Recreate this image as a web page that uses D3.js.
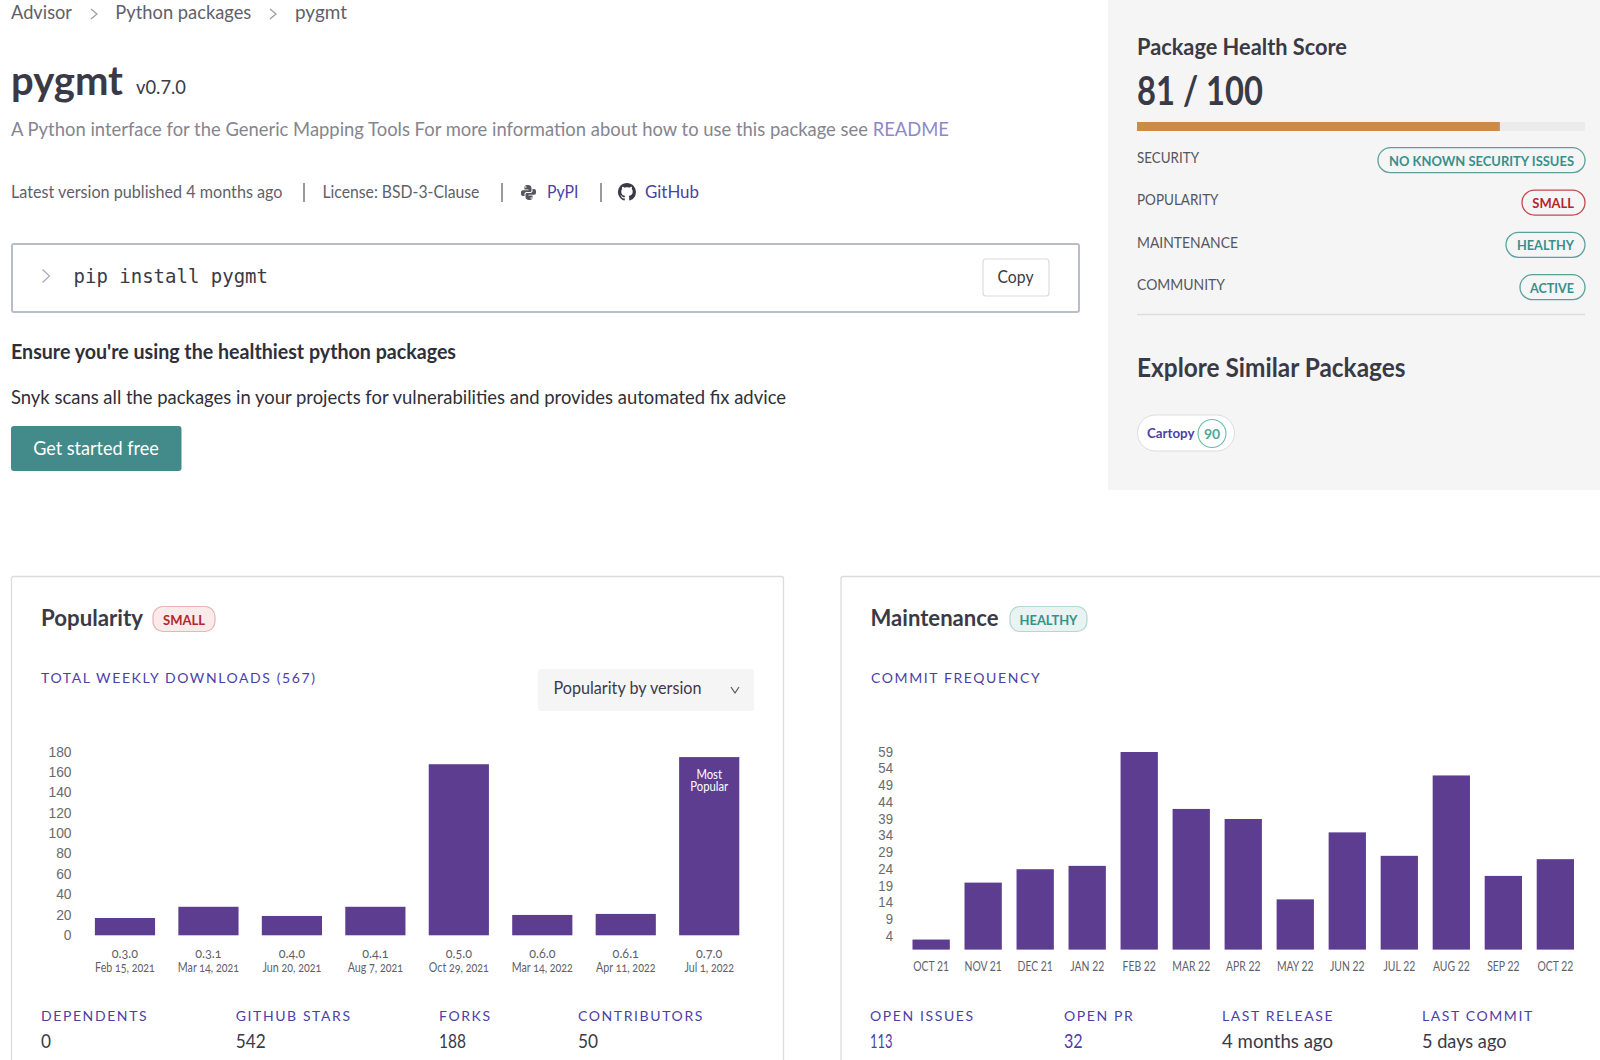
<!DOCTYPE html>
<html>
<head>
<meta charset="utf-8">
<script src="https://d3js.org/d3.v7.min.js"></script>
<style>
  html, body { margin: 0; padding: 0; background: #fff; overflow: hidden; }
  svg { display: block; font-family: Lato, sans-serif; }
</style>
</head>
<body>
<svg id="page" width="1600" height="1060"></svg>
<script>
// popularity chart
const versions = ['0.3.0', '0.3.1', '0.4.0', '0.4.1', '0.5.0', '0.6.0', '0.6.1', '0.7.0'];
const versionDates = ['Feb 15, 2021', 'Mar 14, 2021', 'Jun 20, 2021', 'Aug 7, 2021', 'Oct 29, 2021', 'Mar 14, 2022', 'Apr 11, 2022', 'Jul 1, 2022'];
const versionDownloads = [17, 28, 19, 28, 168, 20, 21, 175];
const popularityTicks = [0, 20, 40, 60, 80, 100, 120, 140, 160, 180];

// maintenance chart
const months = ['OCT 21', 'NOV 21', 'DEC 21', 'JAN 22', 'FEB 22', 'MAR 22', 'APR 22', 'MAY 22', 'JUN 22', 'JUL 22', 'AUG 22', 'SEP 22', 'OCT 22'];
const commits = [3, 20, 24, 25, 59, 42, 39, 15, 35, 28, 52, 22, 27];
const commitTicks = [4, 9, 14, 19, 24, 29, 34, 39, 44, 49, 54, 59];

// health panel
const healthScore = 81;
const healthLabels = ['SECURITY', 'POPULARITY', 'MAINTENANCE', 'COMMUNITY'];
const healthBadges = ['NO KNOWN SECURITY ISSUES', 'SMALL', 'HEALTHY', 'ACTIVE'];

// stats under the charts
const popularityStatLabels = ['DEPENDENTS', 'GITHUB STARS', 'FORKS', 'CONTRIBUTORS'];
const popularityStatValues = ['0', '542', '188', '50'];
const maintenanceStatLabels = ['OPEN ISSUES', 'OPEN PR', 'LAST RELEASE', 'LAST COMMIT'];
const maintenanceStatValues = ['113', '32', '4 months ago', '5 days ago'];

const INK = '#3a3a46', GREY = '#5f5f6b', PURPLE = '#4b3fa7', BAR = '#5c3d8f', TEAL = '#37908a', RED = '#b3262b';

const svg = d3.select('#page');

// the page's own font runs narrower than Lato, so texts get squeezed to a width
function squeeze(sel, ratio) {
  sel.each(function() {
    d3.select(this)
      .attr('textLength', this.getComputedTextLength() * ratio)
      .attr('lengthAdjust', 'spacingAndGlyphs');
  });
}

function label(g, str, x, y, size, color, opts = {}) {
  const t = g.append('text')
    .text(str)
    .attr('x', x)
    .attr('y', y)
    .attr('dy', '0.35em')
    .attr('font-size', size)
    .attr('fill', color)
    .attr('font-weight', opts.weight || 400)
    .attr('text-anchor', opts.anchor || 'start')
    .attr('letter-spacing', opts.spacing || null)
    .attr('font-family', opts.family || null);
  if (opts.w) t.attr('textLength', opts.w).attr('lengthAdjust', 'spacingAndGlyphs');
  if (opts.ratio) t.call(squeeze, opts.ratio);
  return t;
}

function chevron(g, x, y, w, h, color, down) {
  const p = down
    ? `M${x - w},${y - h}L${x},${y + h}L${x + w},${y - h}`
    : `M${x - w},${y - h}L${x + w},${y}L${x - w},${y + h}`;
  g.append('path').attr('d', p).attr('fill', 'none').attr('stroke', color).attr('stroke-width', 1.2);
}

// ---- left header
const head = svg.append('g');
label(head, 'Advisor', 11, 12, 19, GREY, { w: 61 });
chevron(head, 94, 14, 3, 5, '#9a9aa5');
label(head, 'Python packages', 115.3, 12, 19, GREY, { w: 136 });
chevron(head, 273, 14, 3, 5, '#9a9aa5');
label(head, 'pygmt', 295, 12, 19, GREY, { w: 52 });

label(head, 'pygmt', 11, 81, 41, INK, { weight: 700, w: 112 });
label(head, 'v0.7.0', 136, 87, 19, INK, { w: 50 });

// description and its link share one text so they squeeze together
const descr = label(head, 'A Python interface for the Generic Mapping Tools For more information about how to use this package see ', 11, 129, 19, '#85858f', { w: 938 });
descr.append('tspan').attr('fill', '#8f88c7').text('README');

label(head, 'Latest version published 4 months ago', 11, 192, 17, GREY, { w: 271.5 });
label(head, 'License: BSD-3-Clause', 322.4, 192, 17, GREY, { w: 157 });
label(head, 'PyPI', 547, 192, 17, PURPLE, { w: 31.5 });
label(head, 'GitHub', 645, 192, 17, PURPLE, { w: 54 });
[304, 502, 601].forEach(x => {
  head.append('line').attr('x1', x).attr('x2', x).attr('y1', 183).attr('y2', 202).attr('stroke', '#55555f').attr('stroke-width', 1.2);
});

// python logo, two interlocked blobs
head.append('g').attr('transform', 'translate(521,185)').attr('fill', '#55555f')
  .append('path')
  .attr('d', 'M7,0C3.5,0 3.5,1.5 3.5,3V4.5H7.5V5.2H2C0,5.2 0,7 0,8.5C0,10 .5,11 2,11H3.5V9C3.5,7.8 4.5,7 5.5,7H9C10,7 10.5,6.3 10.5,5.5V3C10.5,1 9,0 7,0ZM4.8,1.2A.8,.8 0 1 1 4.8,2.8A.8,.8 0 1 1 4.8,1.2ZM11.5,4V6C11.5,7.2 10.5,8 9.5,8H6C5,8 4.5,8.7 4.5,9.5V12C4.5,14 6,15 8,15C11.5,15 11.5,13.5 11.5,12V10.5H7.5V9.8H13C15,9.8 15,8 15,6.5C15,5 14.5,4 13,4ZM10.2,12.2A.8,.8 0 1 1 10.2,13.8A.8,.8 0 1 1 10.2,12.2Z');

// github mark
head.append('path')
  .attr('transform', 'translate(618,183) scale(1.12)')
  .attr('fill', '#3a3a46')
  .attr('d', 'M8 0C3.58 0 0 3.58 0 8c0 3.54 2.29 6.53 5.47 7.59.4.07.55-.17.55-.38 0-.19-.01-.82-.01-1.49-2.01.37-2.53-.49-2.69-.94-.09-.23-.48-.94-.82-1.13-.28-.15-.68-.52-.01-.53.63-.01 1.08.58 1.23.82.72 1.21 1.87.87 2.33.66.07-.52.28-.87.51-1.07-1.78-.2-3.64-.89-3.64-3.95 0-.87.31-1.59.82-2.15-.08-.2-.36-1.02.08-2.12 0 0 .67-.21 2.2.82.64-.18 1.32-.27 2-.27s1.36.09 2 .27c1.53-1.04 2.2-.82 2.2-.82.44 1.1.16 1.92.08 2.12.51.56.82 1.27.82 2.15 0 3.07-1.87 3.75-3.65 3.95.29.25.54.73.54 1.48 0 1.07-.01 1.93-.01 2.2 0 .21.15.46.55.38A8.01 8.01 0 0 0 16 8c0-4.42-3.58-8-8-8z');

// install box
const box = svg.append('g');
box.append('rect').attr('x', 12).attr('y', 244).attr('width', 1067).attr('height', 68).attr('rx', 2)
  .attr('fill', '#fff').attr('stroke', '#b9bcc9').attr('stroke-width', 2);
chevron(box, 46, 276, 3.5, 6.5, '#a8a8c0');
label(box, 'pip install pygmt', 73.5, 276, 19, INK, { family: '"DejaVu Sans Mono", monospace' });
box.append('rect').attr('x', 983).attr('y', 259).attr('width', 66).attr('height', 37).attr('rx', 3)
  .attr('fill', '#fff').attr('stroke', '#dcdce0').attr('stroke-width', 1.2);
label(box, 'Copy', 1015.5, 277, 17, INK, { anchor: 'middle', w: 36 });

label(svg, "Ensure you're using the healthiest python packages", 11, 352, 20, '#2f2f3a', { weight: 700, w: 445 });
label(svg, 'Snyk scans all the packages in your projects for vulnerabilities and provides automated fix advice', 11, 397, 19.5, '#2f2f3a', { w: 775 });
svg.append('rect').attr('x', 11).attr('y', 426).attr('width', 170.5).attr('height', 45).attr('rx', 3).attr('fill', '#428b8a');
label(svg, 'Get started free', 96, 448, 19.5, '#fff', { anchor: 'middle', w: 125.5 });

// ---- health panel
const panel = svg.append('g');
panel.append('rect').attr('x', 1108).attr('y', 0).attr('width', 492).attr('height', 490).attr('fill', '#f5f5f5');
label(panel, 'Package Health Score', 1137, 47, 22.5, INK, { weight: 700, w: 210 });
label(panel, '81 / 100', 1137, 91, 40, INK, { weight: 700, w: 126 });

const healthX = d3.scaleLinear().domain([0, 100]).range([1137, 1585]);
panel.append('rect').attr('x', healthX(0)).attr('y', 122).attr('width', healthX(100) - healthX(0)).attr('height', 9).attr('fill', '#ebebeb');
panel.append('rect').attr('x', healthX(0)).attr('y', 122).attr('width', healthX(healthScore) - healthX(0)).attr('height', 9).attr('fill', '#c98c4a');

const rowY = d3.scalePoint().domain(healthLabels).range([157.7, 284.7]);
const badgeLeft = [1378, 1522, 1506, 1520];
const labelWidths = [62, 81.5, 101, 88];
const badgeWidths = [185, 41.7, 57, 44];
healthLabels.forEach((name, i) => {
  const y = rowY(name);
  label(panel, name, 1137, y, 15, '#55555f', { w: labelWidths[i] });
  const bad = healthBadges[i] === 'SMALL';
  panel.append('rect').attr('x', badgeLeft[i]).attr('y', y - 10).attr('width', 1585 - badgeLeft[i]).attr('height', 25).attr('rx', 12.5)
    .attr('fill', 'none').attr('stroke', bad ? '#c4484c' : '#5aa19d').attr('stroke-width', 1.3);
  label(panel, healthBadges[i], 1574, y + 3, 14, bad ? RED : TEAL, { weight: 700, anchor: 'end', w: badgeWidths[i] });
});

panel.append('line').attr('x1', 1137).attr('x2', 1585).attr('y1', 314.5).attr('y2', 314.5).attr('stroke', '#dedede').attr('stroke-width', 1.4);
label(panel, 'Explore Similar Packages', 1137, 368, 26, INK, { weight: 700, w: 268.5 });

panel.append('rect').attr('x', 1137.5).attr('y', 415).attr('width', 97).attr('height', 36).attr('rx', 18)
  .attr('fill', '#fff').attr('stroke', '#dddddd');
label(panel, 'Cartopy', 1147, 433, 14, PURPLE, { weight: 700, w: 47.5 });
panel.append('circle').attr('cx', 1212).attr('cy', 433.5).attr('r', 14).attr('fill', '#fff').attr('stroke', '#66bda8').attr('stroke-width', 1.1);
label(panel, '90', 1212, 434, 14, '#4fa78f', { weight: 700, anchor: 'middle' });

// ---- cards
function card(x, width, title, titleW, badge, badgeX, badgeW, textW, bad) {
  const g = svg.append('g');
  g.append('rect').attr('x', x).attr('y', 576.5).attr('width', width).attr('height', 600).attr('rx', 2)
    .attr('fill', '#fff').attr('stroke', '#dcdcdc').attr('stroke-width', 1.3);
  label(g, title, x + 29.5, 617.5, 23, INK, { weight: 700, w: titleW });
  g.append('rect').attr('x', badgeX).attr('y', 606.5).attr('width', badgeW).attr('height', 25).attr('rx', 10)
    .attr('fill', bad ? '#fbeaea' : '#e8f3f2').attr('stroke', bad ? '#e8b4b4' : '#b3d8d4').attr('stroke-width', 1.2);
  label(g, badge, badgeX + badgeW / 2, 620, 14, bad ? RED : TEAL, { weight: 700, anchor: 'middle', w: textW });
  return g;
}

function stats(g, labels, values, xs, widths, colors) {
  labels.forEach((name, i) => {
    label(g, name, xs[i], 1016, 14, PURPLE, { spacing: 1.6 });
    label(g, values[i], xs[i], 1040.5, 20, colors[i], { w: widths[i] });
  });
}

function styleAxis(sel, size, color, family, ratio) {
  sel.select('.domain').remove();
  sel.selectAll('.tick line').remove();
  sel.selectAll('text').attr('font-size', size).attr('fill', color).attr('font-family', family).call(squeeze, ratio);
}

// popularity card
const popCard = card(11.5, 772, 'Popularity', 102, 'SMALL', 153, 62, 42, true);
label(popCard, 'TOTAL WEEKLY DOWNLOADS (567)', 41, 678, 14, PURPLE, { spacing: 1.6 });
popCard.append('rect').attr('x', 538).attr('y', 669).attr('width', 216).attr('height', 42).attr('rx', 2).attr('fill', '#f5f5f5');
label(popCard, 'Popularity by version', 553.5, 688, 18, INK, { w: 148 });
chevron(popCard, 735, 690, 4, 3, '#55555f', true);

const popX = d3.scaleBand().domain(versions).range([94.9, 739.3]).paddingInner(0.279);
const popY = d3.scaleLinear().domain([0, 180]).range([935.3, 752]);

popCard.append('g').attr('transform', 'translate(71.5,-0.7)')
  .call(d3.axisLeft(popY).tickValues(popularityTicks).tickSize(0).tickPadding(0))
  .call(styleAxis, 15, '#6a6a6a', '"Liberation Sans", sans-serif', 0.92);

popCard.selectAll('.bar').data(versions).enter().append('rect')
  .attr('class', 'bar')
  .attr('x', d => popX(d))
  .attr('width', popX.bandwidth())
  .attr('y', (d, i) => popY(versionDownloads[i]))
  .attr('height', (d, i) => popY(0) - popY(versionDownloads[i]))
  .attr('fill', BAR);

versions.forEach((v, i) => {
  const cx = popX(v) + popX.bandwidth() / 2;
  label(popCard, v, cx, 954, 12.5, GREY, { anchor: 'middle', ratio: 0.95 }).style('font-feature-settings', '"onum"');
  label(popCard, versionDates[i], cx, 968, 12.5, GREY, { anchor: 'middle', ratio: 0.82 }).style('font-feature-settings', '"onum"');
});

const topVersion = versions[d3.maxIndex(versionDownloads)];
const topCx = popX(topVersion) + popX.bandwidth() / 2;
label(popCard, 'Most', topCx, 774.5, 12.5, '#fff', { anchor: 'middle', ratio: 0.9 });
label(popCard, 'Popular', topCx, 786.5, 12.5, '#fff', { anchor: 'middle', ratio: 0.9 });

stats(popCard, popularityStatLabels, popularityStatValues, [41, 235.7, 439, 578], [10, 30, 27, 20], [INK, INK, INK, INK]);

// maintenance card
const mainCard = card(841, 800, 'Maintenance', 128, 'HEALTHY', 1010, 77, 58, false);
label(mainCard, 'COMMIT FREQUENCY', 871, 678, 14, PURPLE, { spacing: 1.6 });

const comX = d3.scaleBand().domain(months).range([912.5, 1574]).paddingInner(0.283);
const comY = d3.scaleLinear().domain([0, 59]).range([949.6, 752]);

mainCard.append('g').attr('transform', 'translate(893,-0.7)')
  .call(d3.axisLeft(comY).tickValues(commitTicks).tickSize(0).tickPadding(0))
  .call(styleAxis, 15, '#6a6a6a', '"Liberation Sans", sans-serif', 0.88);

mainCard.selectAll('.bar').data(months).enter().append('rect')
  .attr('class', 'bar')
  .attr('x', d => comX(d))
  .attr('width', comX.bandwidth())
  .attr('y', (d, i) => comY(commits[i]))
  .attr('height', (d, i) => comY(0) - comY(commits[i]))
  .attr('fill', BAR);

mainCard.append('g').attr('transform', 'translate(0,962.5)')
  .call(d3.axisBottom(comX).tickSize(0).tickPadding(0))
  .call(styleAxis, 12.5, GREY, 'Lato, sans-serif', 0.83);

stats(mainCard, maintenanceStatLabels, maintenanceStatValues, [870, 1064, 1222, 1422], [22.6, 18.7, 111, 84.5], [PURPLE, PURPLE, INK, INK]);
</script>
</body>
</html>
